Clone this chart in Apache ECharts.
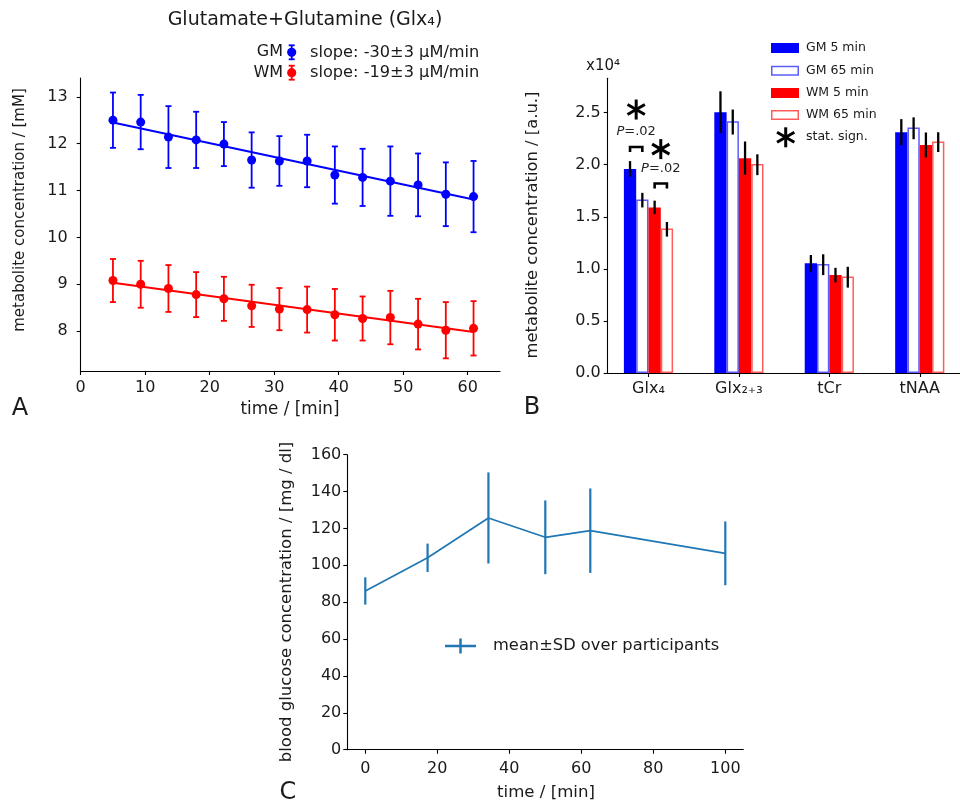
<!DOCTYPE html>
<html><head><meta charset="utf-8">
<script src="https://cdn.jsdelivr.net/npm/echarts@6/dist/echarts.min.js"></script>
<style>html,body{margin:0;padding:0;background:#fff}#c{width:960px;height:802px}</style>
</head><body><div id="c"></div>
<script>
// ---------- Panel A data ----------
const timesA = [5, 9.3, 13.6, 17.9, 22.2, 26.5, 30.8, 35.1, 39.4, 43.7, 48.0, 52.3, 56.6, 60.9];
const gmConc = [12.50, 12.46, 12.14, 12.08, 11.99, 11.65, 11.63, 11.63, 11.33, 11.28, 11.20, 11.12, 10.92, 10.87];
const gmErr  = [0.59, 0.58, 0.66, 0.60, 0.47, 0.59, 0.53, 0.56, 0.61, 0.61, 0.74, 0.67, 0.68, 0.76];
const wmConc = [9.08, 9.00, 8.91, 8.78, 8.69, 8.54, 8.47, 8.46, 8.35, 8.27, 8.29, 8.15, 8.02, 8.06];
const wmErr  = [0.46, 0.50, 0.50, 0.48, 0.47, 0.45, 0.45, 0.49, 0.55, 0.47, 0.57, 0.54, 0.60, 0.58];
const gmFit = [12.45, 10.81];   // fit line value at first and last time
const wmFit = [9.03, 7.98];
const xTicksA = [0, 10, 20, 30, 40, 50, 60];
const yTicksA = [8, 9, 10, 11, 12, 13];
// ---------- Panel B data (x10^4 a.u.) ----------
const metabolites = ['Glx₄', 'Glx₂₊₃', 'tCr', 'tNAA'];
const gm5 = [1.96, 2.505, 1.053, 2.313];
const gm5Err = [0.075, 0.20, 0.08, 0.125];
const gm65 = [1.66, 2.41, 1.04, 2.35];
const gm65Err = [0.07, 0.12, 0.10, 0.105];
const wm5 = [1.59, 2.063, 0.94, 2.19];
const wm5Err = [0.065, 0.16, 0.07, 0.12];
const wm65 = [1.38, 2.00, 0.92, 2.217];
const wm65Err = [0.07, 0.10, 0.10, 0.095];
const yTicksB = [0, 0.5, 1.0, 1.5, 2.0, 2.5];
// ---------- Panel C data ----------
const glucoseTime = [0, 17.3, 34.2, 50.0, 62.5, 100];
const glucoseMean = [86.1, 104.1, 125.7, 115.2, 118.8, 106.5];
const glucoseSD = [7.4, 7.7, 24.7, 20.0, 22.9, 17.3];
const xTicksC = [0, 20, 40, 60, 80, 100];
const yTicksC = [0, 20, 40, 60, 80, 100, 120, 140, 160];

const FONT = 'DejaVu Sans';
const TXT = '#1a1a1a';
const BLUE = '#0000ff', RED = '#ff0000', C1 = '#1f77b4';

function axisCommon(ticks, extra) {
  return Object.assign({
    type: 'value',
    splitLine: { show: false },
    axisLine: { show: true, onZero: false, lineStyle: { color: '#000', width: 1.1 } },
    axisTick: { show: true, length: 4, customValues: ticks, lineStyle: { color: '#000', width: 1.1 } },
    axisLabel: { customValues: ticks, color: TXT, fontFamily: FONT, fontSize: 16, margin: 8 }
  }, extra || {});
}

function errRender(color, lw, cap) {
  return function (params, api) {
    const x = api.value(0), lo = api.value(1), hi = api.value(2);
    const p1 = api.coord([x, hi]), p2 = api.coord([x, lo]);
    const st = { stroke: color, lineWidth: lw };
    const ch = [{ type: 'line', shape: { x1: p1[0], y1: p1[1], x2: p2[0], y2: p2[1] }, style: st }];
    if (cap > 0) {
      ch.push({ type: 'line', shape: { x1: p1[0] - cap, y1: p1[1], x2: p1[0] + cap, y2: p1[1] }, style: st });
      ch.push({ type: 'line', shape: { x1: p2[0] - cap, y1: p2[1], x2: p2[0] + cap, y2: p2[1] }, style: st });
    }
    return { type: 'group', children: ch };
  };
}

const BW = 12.3;
function barRender(k, fill, stroke) {
  return function (params, api) {
    const xi = api.value(0), v = api.value(1), e = api.value(2);
    const top = api.coord([xi, v]), base = api.coord([xi, 0]);
    const left = top[0] + (k - 2) * BW;
    const cx = left + BW / 2;
    const et = api.coord([xi, v + e]), eb = api.coord([xi, v - e]);
    const rectStyle = stroke ? { fill: '#fff', stroke: stroke, lineWidth: 1.5 } : { fill: fill };
    const rs = stroke ? { x: left + 0.75, y: top[1], width: BW - 1.5, height: base[1] - top[1] - 0.75 }
                      : { x: left, y: top[1], width: BW, height: base[1] - top[1] };
    return { type: 'group', children: [
      { type: 'rect', shape: rs, style: rectStyle },
      { type: 'line', shape: { x1: cx, y1: et[1], x2: cx, y2: eb[1] }, style: { stroke: '#000', lineWidth: 2.3 } }
    ] };
  };
}

const chart = echarts.init(document.getElementById('c'), null, { renderer: 'canvas' });

const option = {
  animation: false,
  backgroundColor: '#fff',
  grid: [
    { left: 80.7, top: 78, width: 419.3, height: 293 },
    { left: 607.7, top: 78.3, width: 356.9, height: 294.7 },
    { left: 347.3, top: 454.7, width: 396, height: 295 }
  ],
  xAxis: [
    axisCommon(xTicksA, { gridIndex: 0, min: 0, max: 65,
      axisLabel: { customValues: xTicksA, color: TXT, fontFamily: FONT, fontSize: 16, margin: 9 } }),
    axisCommon([0, 1, 2, 3], { gridIndex: 1, min: -0.451, max: 3.445,
      axisLabel: { customValues: [0, 1, 2, 3], color: TXT, fontFamily: FONT, fontSize: 16, margin: 8,
        formatter: v => metabolites[Math.round(v)] } }),
    axisCommon(xTicksC, { gridIndex: 2, min: -5, max: 105,
      axisLabel: { customValues: xTicksC, color: TXT, fontFamily: FONT, fontSize: 16, margin: 11 } })
  ],
  yAxis: [
    axisCommon(yTicksA, { gridIndex: 0, min: 7.15, max: 13.4,
      axisLabel: { customValues: yTicksA, color: TXT, fontFamily: FONT, fontSize: 16, margin: 13 } }),
    axisCommon(yTicksB, { gridIndex: 1, min: 0, max: 2.83,
      axisLabel: { customValues: yTicksB, color: TXT, fontFamily: FONT, fontSize: 16, margin: 7,
        formatter: v => v.toFixed(1) } }),
    axisCommon(yTicksC, { gridIndex: 2, min: 0, max: 160,
      axisLabel: { customValues: yTicksC, color: TXT, fontFamily: FONT, fontSize: 16, margin: 6 } })
  ],
  series: [
    // Panel A
    { type: 'line', xAxisIndex: 0, yAxisIndex: 0, symbol: 'none', z: 2,
      data: [[timesA[0], gmFit[0]], [timesA[timesA.length - 1], gmFit[1]]], lineStyle: { color: BLUE, width: 2 } },
    { type: 'line', xAxisIndex: 0, yAxisIndex: 0, symbol: 'none', z: 2,
      data: [[timesA[0], wmFit[0]], [timesA[timesA.length - 1], wmFit[1]]], lineStyle: { color: RED, width: 2 } },
    { type: 'custom', xAxisIndex: 0, yAxisIndex: 0, z: 3, renderItem: errRender(BLUE, 1.8, 3),
      encode: { x: 0, y: [1, 2] }, data: timesA.map((t, i) => [t, gmConc[i] - gmErr[i], gmConc[i] + gmErr[i]]) },
    { type: 'custom', xAxisIndex: 0, yAxisIndex: 0, z: 3, renderItem: errRender(RED, 1.8, 3),
      encode: { x: 0, y: [1, 2] }, data: timesA.map((t, i) => [t, wmConc[i] - wmErr[i], wmConc[i] + wmErr[i]]) },
    { type: 'scatter', xAxisIndex: 0, yAxisIndex: 0, z: 4, symbolSize: 9, itemStyle: { color: BLUE, opacity: 1 },
      data: timesA.map((t, i) => [t, gmConc[i]]) },
    { type: 'scatter', xAxisIndex: 0, yAxisIndex: 0, z: 4, symbolSize: 9, itemStyle: { color: RED, opacity: 1 },
      data: timesA.map((t, i) => [t, wmConc[i]]) },
    // Panel B
    { type: 'custom', xAxisIndex: 1, yAxisIndex: 1, renderItem: barRender(0, BLUE, null), encode: { x: 0, y: 1 },
      data: metabolites.map((m, i) => [i, gm5[i], gm5Err[i]]) },
    { type: 'custom', xAxisIndex: 1, yAxisIndex: 1, renderItem: barRender(1, null, '#5c5cff'), encode: { x: 0, y: 1 },
      data: metabolites.map((m, i) => [i, gm65[i], gm65Err[i]]) },
    { type: 'custom', xAxisIndex: 1, yAxisIndex: 1, renderItem: barRender(2, RED, null), encode: { x: 0, y: 1 },
      data: metabolites.map((m, i) => [i, wm5[i], wm5Err[i]]) },
    { type: 'custom', xAxisIndex: 1, yAxisIndex: 1, renderItem: barRender(3, null, '#ff5c5c'), encode: { x: 0, y: 1 },
      data: metabolites.map((m, i) => [i, wm65[i], wm65Err[i]]) },
    // Panel C
    { type: 'line', xAxisIndex: 2, yAxisIndex: 2, symbol: 'none', lineStyle: { color: C1, width: 1.7 },
      data: glucoseTime.map((t, i) => [t, glucoseMean[i]]) },
    { type: 'custom', xAxisIndex: 2, yAxisIndex: 2, renderItem: errRender(C1, 2.2, 0), encode: { x: 0, y: [1, 2] },
      data: glucoseTime.map((t, i) => [t, glucoseMean[i] - glucoseSD[i], glucoseMean[i] + glucoseSD[i]]) }
  ]
};
chart.setOption(option);

// ---------- graphics (titles, legends, annotations) ----------
function txt(x, y, s, size, extra) {
  return { type: 'text', x: x, y: y, z: 100,
    style: Object.assign({ text: s, fill: TXT, font: size + 'px "' + FONT + '"', align: 'center', verticalAlign: 'middle' }, extra || {}) };
}
function rtxt(x, y, s, size) {
  return { type: 'text', x: x, y: y, rotation: Math.PI / 2, z: 100,
    style: { text: s, fill: TXT, font: size + 'px "' + FONT + '"', align: 'center', verticalAlign: 'middle' } };
}
function asterisk(cx, cy, r) {
  const ch = [];
  [90, 30, 150].forEach(a => {
    const rad = a * Math.PI / 180;
    ch.push({ type: 'line', shape: { x1: cx - r * Math.cos(rad), y1: cy - r * Math.sin(rad), x2: cx + r * Math.cos(rad), y2: cy + r * Math.sin(rad) },
      style: { stroke: '#000', lineWidth: 3 } });
  });
  return { type: 'group', z: 100, children: ch };
}
function legendMarker(cx, cy, color) {
  return { type: 'group', z: 100, children: [
    { type: 'line', shape: { x1: cx, y1: cy - 7, x2: cx, y2: cy + 7 }, style: { stroke: color, lineWidth: 1.8 } },
    { type: 'line', shape: { x1: cx - 3, y1: cy - 7, x2: cx + 3, y2: cy - 7 }, style: { stroke: color, lineWidth: 1.8 } },
    { type: 'line', shape: { x1: cx - 3, y1: cy + 7, x2: cx + 3, y2: cy + 7 }, style: { stroke: color, lineWidth: 1.8 } },
    { type: 'circle', shape: { cx: cx, cy: cy, r: 4.6 }, style: { fill: color } }
  ] };
}
const g = [];
// Panel A
g.push(txt(305, 20, 'Glutamate+Glutamine (Glx₄)', 19));
g.push(txt(283, 52.3, 'GM', 16, { align: 'right' }));
g.push(legendMarker(291.7, 52.3, BLUE));
g.push(txt(310, 52.3, 'slope: -30±3 µM/min', 16.2, { align: 'left' }));
g.push(txt(283, 72.7, 'WM', 16, { align: 'right' }));
g.push(legendMarker(291.7, 72.7, RED));
g.push(txt(310, 72.7, 'slope: -19±3 µM/min', 16.2, { align: 'left' }));
g.push(rtxt(20, 210, 'metabolite concentration / [mM]', 15));
g.push(txt(290, 410, 'time / [min]', 16.8));
g.push(txt(20, 409, 'A', 24));
// Panel B
g.push(rtxt(533, 225, 'metabolite concentration / [a.u.]', 16.4));
g.push(txt(586, 66, 'x10⁴', 15, { align: 'left' }));
g.push(txt(532, 408, 'B', 24));
const legB = [
  ['GM 5 min', BLUE, null, 48],
  ['GM 65 min', null, '#5c5cff', 70.7],
  ['WM 5 min', RED, null, 93],
  ['WM 65 min', null, '#ff5c5c', 115]
];
legB.forEach(([name, fill, stroke, y]) => {
  g.push({ type: 'rect', z: 100, shape: stroke ? { x: 771.75, y: y - 4.25, width: 26.5, height: 8.5 } : { x: 771, y: y - 5, width: 28, height: 10 },
    style: stroke ? { fill: '#fff', stroke: stroke, lineWidth: 1.5 } : { fill: fill } });
  g.push(txt(806, y, name, 12.5, { align: 'left' }));
});
g.push(asterisk(785.7, 137.3, 10));
g.push(txt(806, 137, 'stat. sign.', 12.5, { align: 'left' }));
// significance annotations, positioned on the Glx4 group via the axis scales
const gc = chart.convertToPixel({ gridIndex: 1 }, [0, 0])[0];
const yv = v => chart.convertToPixel({ gridIndex: 1 }, [0, v])[1];
function bracket(k1, k2, v) {
  const x1 = gc + (k1 - 1.5) * BW, x2 = gc + (k2 - 1.5) * BW, y = yv(v);
  return { type: 'polyline', z: 100, shape: { points: [[x1, y + 5], [x1, y], [x2, y], [x2, y + 5]] },
    style: { stroke: '#000', lineWidth: 2.6, fill: null } };
}
function ptext(x, y) {
  return { type: 'text', x: x, y: y, z: 100, style: { text: '{i|P}=.02', fill: '#222', font: '13px "' + FONT + '"',
    align: 'center', verticalAlign: 'middle',
    rich: { i: { fontStyle: 'italic', fontFamily: FONT, fontSize: 13, fill: '#222' } } } };
}
const m1 = gc - 1.0 * BW, m2 = gc + 1.0 * BW;
g.push(bracket(0, 1, 2.17));
g.push(ptext(m1, yv(2.32)));
g.push(asterisk(m1, yv(2.53), 10));
g.push(bracket(2, 3, 1.82));
g.push(ptext(m2, yv(1.96)));
g.push(asterisk(m2, yv(2.15), 10));
// Panel C
g.push(rtxt(287, 602, 'blood glucose concentration / [mg / dl]', 16.5));
g.push(txt(546, 793, 'time / [min]', 16.6));
g.push(txt(288, 793, 'C', 24));
g.push({ type: 'line', z: 100, shape: { x1: 445, y1: 646, x2: 476, y2: 646 }, style: { stroke: C1, lineWidth: 2.5 } });
g.push({ type: 'line', z: 100, shape: { x1: 460.5, y1: 638.5, x2: 460.5, y2: 653.5 }, style: { stroke: C1, lineWidth: 2.5 } });
g.push(txt(493, 646, 'mean±SD over participants', 16.3, { align: 'left' }));

chart.setOption({ graphic: g });
</script>
</body></html>
